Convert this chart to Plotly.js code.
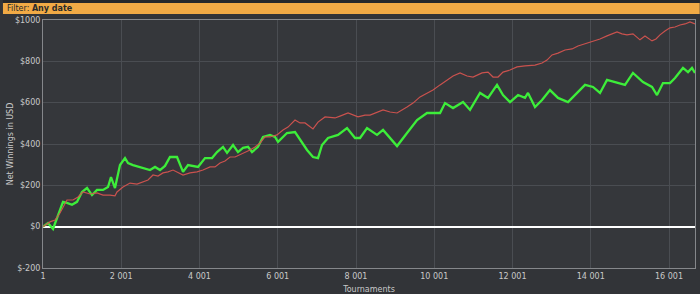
<!DOCTYPE html>
<html>
<head>
<meta charset="utf-8">
<script src="https://cdn.plot.ly/plotly-3.0.1.min.js"></script>
<style>
  html, body { margin: 0; padding: 0; background: #323438; }
  #chart { width: 700px; height: 294px; }
</style>
</head>
<body>
<div id="chart"></div>
<script>
// Tournament index (x) and net winnings in USD (y)
const greenTournaments = [1,129,257,384,512,614,742,870,998,1126,1253,1381,1535,1662,1739,1841,1969,2097,2174,2301,2480,2608,2736,2864,2992,3119,3247,3426,3503,3580,3707,3963,4142,4322,4449,4602,4705,4858,4985,5113,5241,5343,5496,5624,5803,5931,6008,6237,6442,6570,6749,6902,7030,7132,7286,7541,7771,7976,8104,8283,8538,8692,8871,9050,9305,9561,9816,10149,10276,10481,10736,10915,11171,11375,11605,11758,11937,12142,12320,12397,12576,12755,12959,13164,13419,13598,13854,14058,14237,14416,14620,14876,15080,15336,15566,15694,15847,16026,16154,16358,16486,16588,16665];
const greenWinnings = [0,18,-11,57,120,115,106,120,168,187,153,178,178,192,240,187,298,332,308,298,289,284,274,289,274,294,337,337,298,265,298,289,332,332,361,386,357,395,361,381,386,361,386,434,444,434,410,453,458,419,371,337,332,395,429,444,477,429,429,477,444,468,429,390,453,516,550,550,598,574,603,565,647,623,686,637,603,637,623,647,579,613,661,623,603,637,686,676,647,710,700,686,744,700,676,637,695,695,719,768,748,768,744];

const redTournaments = [1,180,308,436,614,768,896,1023,1202,1381,1535,1713,1841,1892,2046,2225,2404,2557,2685,2813,2940,3068,3196,3324,3452,3580,3758,3937,4091,4270,4397,4525,4653,4781,4909,5036,5164,5292,5420,5548,5675,5803,5982,6135,6263,6442,6570,6698,6902,7030,7209,7464,7592,7797,8052,8231,8359,8692,8871,9050,9305,9458,9637,9816,9969,10149,10328,10481,10660,10839,10992,11222,11375,11503,11631,11758,11937,12116,12320,12576,12755,12883,13011,13164,13343,13522,13675,13854,14058,14237,14416,14544,14672,14799,14927,15080,15259,15387,15566,15668,15770,15898,16026,16154,16282,16410,16537,16665];
const redWinnings = [0,23,32,66,129,129,144,168,158,163,153,153,149,168,192,211,206,216,226,250,245,260,265,274,260,250,260,265,274,289,289,308,318,337,337,347,361,371,386,405,434,434,444,468,482,516,502,502,473,506,531,526,535,550,531,540,540,565,555,550,579,598,628,647,661,686,710,729,744,729,724,744,748,724,724,748,758,773,778,782,792,806,831,840,855,860,874,884,899,908,923,933,942,933,928,933,904,923,899,908,928,947,962,966,976,981,991,981];

const xTickValues = [1,2001,4001,6001,8001,10001,12001,14001,16001];
const xTickLabels = ['1','2 001','4 001','6 001','8 001','10 001','12 001','14 001','16 001'];
const yTickValues = [-200,0,200,400,600,800,1000];
const yTickLabels = ['$-200','$0','$200','$400','$600','$800','$1000'];

const tickFont = {family: 'DejaVu Sans, Verdana, sans-serif', size: 8, color: '#c9c9c9'};

const traces = [
  {x: greenTournaments, y: greenWinnings, type: 'scatter', mode: 'lines',
   line: {color: '#3ded3a', width: 2.3}, hoverinfo: 'skip'},
  {x: redTournaments, y: redWinnings, type: 'scatter', mode: 'lines',
   line: {color: '#d2534f', width: 1.2}, opacity: 0.95, hoverinfo: 'skip'}
];

const layout = {
  width: 700, height: 294,
  margin: {l: 43, r: 5, t: 20, b: 26},
  paper_bgcolor: '#323438',
  plot_bgcolor: '#35373b',
  showlegend: false,
  font: tickFont,
  xaxis: {
    range: [1, 16665], tickvals: xTickValues, ticktext: xTickLabels,
    showgrid: true, gridcolor: '#4a4d52', gridwidth: 1,
    showline: true, linecolor: '#85878b', linewidth: 1, mirror: true,
    ticks: '', ticklen: 0, tickfont: tickFont, zeroline: false,
    title: {text: 'Tournaments', font: tickFont, standoff: 6}
  },
  yaxis: {
    range: [-200, 1000], tickvals: yTickValues, ticktext: yTickLabels,
    showgrid: true, gridcolor: '#4a4d52', gridwidth: 1,
    showline: true, linecolor: '#85878b', linewidth: 1, mirror: true,
    ticks: '', ticklen: 0, tickfont: tickFont,
    zeroline: true, zerolinecolor: '#ffffff', zerolinewidth: 2,
    title: {text: 'Net Winnings in USD', font: tickFont, standoff: 0}
  },
  shapes: [
    {type: 'rect', xref: 'paper', yref: 'paper', x0: -0.0614, x1: 1.0072,
     y0: (294 - 3 - 26) / 248, y1: (294 - 0 - 26) / 248 + 0.01,
     fillcolor: '#26282b', line: {width: 0}, layer: 'below'},
    {type: 'rect', xref: 'paper', yref: 'paper', x0: -0.0614, x1: 1.0072,
     y0: (294 - 14 - 26) / 248, y1: (294 - 3 - 26) / 248,
     fillcolor: '#f1aa45', line: {width: 0}, layer: 'below'}
  ],
  annotations: [
    {xref: 'paper', yref: 'paper', x: -0.0614 + 2 / 652, y: (294 - 8.5 - 26) / 248,
     xanchor: 'left', yanchor: 'middle', showarrow: false,
     text: 'Filter: <b>Any date</b>',
     font: {family: 'DejaVu Sans, Verdana, sans-serif', size: 8, color: '#2a2a2a'}}
  ]
};

Plotly.newPlot('chart', traces, layout, {staticPlot: true, displayModeBar: false});
</script>
</body>
</html>
